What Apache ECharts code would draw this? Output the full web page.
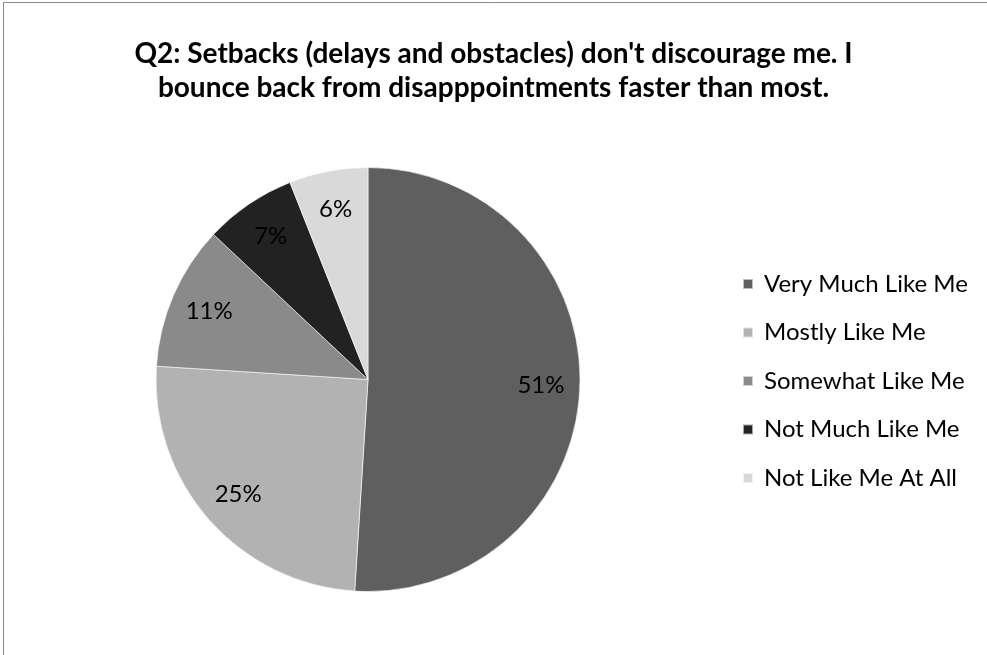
<!DOCTYPE html>
<html>
<head>
<meta charset="utf-8">
<script src="https://cdn.jsdelivr.net/npm/echarts@6/dist/echarts.min.js"></script>
<style>
  html, body { margin: 0; padding: 0; background: #fff; }
  #chart { width: 987px; height: 655px; }
</style>
</head>
<body>
<div id="chart"></div>
<script>
// Survey answers for Q2, in percent
const categories = ['Very Much Like Me', 'Mostly Like Me', 'Somewhat Like Me', 'Not Much Like Me', 'Not Like Me At All'];
const percents = [51, 25, 11, 7, 6];
const sliceColors = ['#5f5f5f', '#b2b2b2', '#8a8a8a', '#222222', '#d9d9d9'];
const titleText = "Q2: Setbacks (delays and obstacles) don't discourage me. I\nbounce back from disapppointments faster than most.";

const FONT = 'Lato, "Open Sans", sans-serif';
const pieData = categories.map((name, i) => ({
  name: name,
  value: percents[i],
  itemStyle: { color: sliceColors[i] }
}));

const chart = echarts.init(document.getElementById('chart'), null, { renderer: 'canvas' });
chart.setOption({
  animation: false,
  backgroundColor: '#ffffff',
  title: {
    text: titleText,
    left: 'center',
    top: 37,
    padding: 0,
    textStyle: { fontFamily: FONT, fontWeight: 'bold', fontSize: 28, lineHeight: 34, color: '#000' }
  },
  legend: {
    orient: 'vertical',
    left: 742,
    top: 272,
    padding: 0,
    itemWidth: 10,
    itemHeight: 10,
    itemGap: 24.5,
    icon: 'rect',
    data: categories,
    textStyle: { fontFamily: FONT, fontSize: 24, lineHeight: 24, color: '#000', padding: [0, 0, 0, 6] }
  },
  graphic: [{
    type: 'rect',
    silent: true,
    shape: { x: 3.5, y: 2.5, width: 1100, height: 800 },
    style: { fill: 'none', stroke: '#868686', lineWidth: 1 }
  }],
  series: [
    {
      type: 'pie',
      center: [368, 379.5],
      radius: [0, 212],
      startAngle: 90,
      clockwise: true,
      label: { show: false },
      labelLine: { show: false },
      itemStyle: { borderColor: 'rgba(255,255,255,0.6)', borderWidth: 1 },
      data: pieData
    },
    {
      // transparent overlay that only positions the percentage labels
      type: 'pie',
      center: [368, 379.5],
      radius: [0, 340],
      startAngle: 90,
      clockwise: true,
      silent: true,
      legendHoverLink: false,
      itemStyle: { color: 'rgba(0,0,0,0)', borderWidth: 0 },
      label: {
        show: true,
        position: 'inside',
        formatter: '{c}%',
        fontFamily: FONT,
        fontSize: 24,
        color: '#000'
      },
      labelLine: { show: false },
      data: categories.map((name, i) => ({ name: name, value: percents[i] }))
    }
  ]
});
</script>
</body>
</html>
